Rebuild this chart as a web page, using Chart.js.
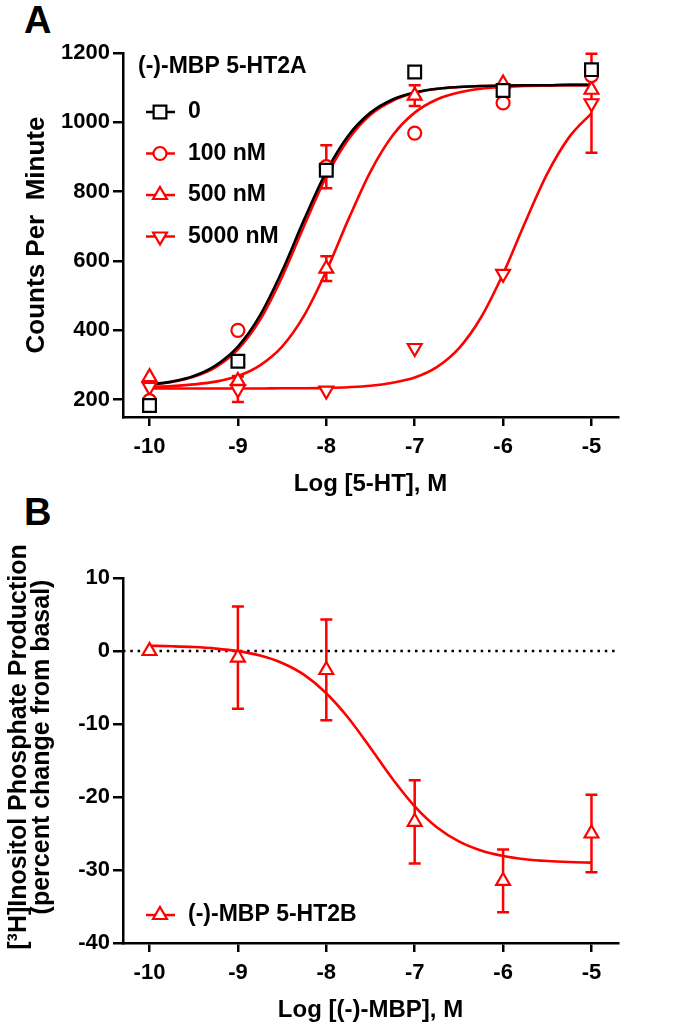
<!DOCTYPE html>
<html>
<head>
<meta charset="utf-8">
<script src="https://cdn.jsdelivr.net/npm/chart.js@4.4.1/dist/chart.umd.min.js"></script>
<style>
  body { margin: 0; background: #fff; width: 678px; height: 1027px; position: relative; overflow: hidden; font-family: "Liberation Sans", Arial, sans-serif; }
  canvas { position: absolute; left: 0; }
  #chartA { top: 0; }
  #chartB { top: 490px; }
  .letter { position: absolute; left: 24px; font-weight: bold; font-size: 38px; line-height: 1; }
</style>
</head>
<body>
<div class="letter" style="top:1px">A</div>
<div class="letter" style="top:493px">B</div>
<canvas id="chartA" width="678" height="510"></canvas>
<canvas id="chartB" width="678" height="537"></canvas>
<script>
// ---------- data ----------
const doseX = [-10, -9, -8, -7, -6, -5];
const xTicks = [-10, -9, -8, -7, -6, -5];

// panel A: counts per minute, (-)-MBP 5-HT2A
const legendTitleA = '(-)-MBP 5-HT2A';
const labelsA = ['0', '100 nM', '500 nM', '5000 nM'];
const cpm0    = [183, 311, 862, 1145, 1092, 1152];
const cpm100  = [197, 400, 872, 969, 1056, 1135];
const cpm500  = [265, 254, 578, 1077, 1112, 1094];
const cpm5000 = [237, 230, 226, 349, 563, 1055];
const err0    = [0, 0, 0, 0, 0, 0];
const err100  = [0, 0, 62, 0, 0, 0];
const err500  = [0, 14, 36, 30, 0, 0];
const err5000 = [0, 37, 0, 0, 0, 143];
const yTicksA = [200, 400, 600, 800, 1000, 1200];

// fitted curves
const curveX  = [-10, -9.75, -9.5, -9.25, -9, -8.75, -8.5, -8.25, -8, -7.75, -7.5, -7.25, -7, -6.75, -6.5, -6.25, -6, -5.75, -5.5, -5.25, -5];
const fit0    = [244, 252, 268, 299, 353, 443, 571, 720, 858, 962, 1028, 1066, 1086, 1097, 1102, 1105, 1106, 1107, 1107, 1108, 1108];
const fit100  = [243, 251, 266, 294, 345, 430, 554, 702, 843, 951, 1022, 1062, 1085, 1096, 1102, 1105, 1106, 1107, 1107, 1108, 1108];
const fit500  = [237, 239, 244, 252, 268, 299, 353, 443, 571, 720, 858, 962, 1028, 1066, 1086, 1097, 1102, 1105, 1106, 1107, 1107];
const fit5000 = [232, 232, 232, 232, 232, 232, 233, 233, 234, 236, 240, 249, 264, 294, 348, 437, 563, 712, 852, 958, 1026];

// panel B: percent change from basal, (-)-MBP 5-HT2B
const labelB = '(-)-MBP 5-HT2B';
const pctB = [0, -0.9, -2.6, -23.4, -31.5, -25.0];
const errB = [0, 7.0, 6.9, 5.7, 4.3, 5.3];
const fitB = [0.72, 0.65, 0.54, 0.33, -0.02, -0.63, -1.65, -3.28, -5.78, -9.18, -13.29, -17.53, -21.27, -24.13, -26.08, -27.33, -28.08, -28.52, -28.77, -28.91, -28.99];
const yTicksB = [-40, -30, -20, -10, 0, 10];
const baselineB = 0;

const xMin = -10.3, xMax = -4.7;
const RED = '#ff0000', BLACK = '#000000';
const FONT = "'Liberation Sans', Arial, sans-serif";

Chart.defaults.font.family = FONT;
Chart.defaults.font.weight = 'bold';
Chart.defaults.color = '#000';

const pts = (xs, ys) => xs.map((x, i) => ({ x: x, y: ys[i] }));

function curveDs(ys, color) {
    return {
        type: 'line', data: pts(curveX, ys), borderColor: color, borderWidth: 2.6,
        pointRadius: 0, fill: false, cubicInterpolationMode: 'monotone', order: 3
    };
}

function pointDs(ys, errs, color, style, radius, rotation) {
    return {
        type: 'scatter', data: pts(doseX, ys), errors: errs, showLine: false,
        pointStyle: style, pointRadius: radius, pointRotation: rotation || 0,
        pointBorderColor: color, pointBackgroundColor: '#fff', pointBorderWidth: 2.2,
        borderColor: color, order: 1
    };
}

// error bars drawn through the chart's scales
const errorBars = {
    id: 'errorBars',
    beforeDatasetsDraw(chart) {
        const { ctx, scales: { x, y } } = chart;
        chart.data.datasets.forEach(ds => {
            if (!ds.errors) return;
            ctx.save();
            ctx.strokeStyle = ds.borderColor;
            ctx.lineWidth = 2.5;
            ds.data.forEach((p, j) => {
                const e = ds.errors[j];
                if (!e) return;
                const px = x.getPixelForValue(p.x);
                const top = y.getPixelForValue(p.y + e);
                const bot = y.getPixelForValue(p.y - e);
                ctx.beginPath();
                ctx.moveTo(px, top); ctx.lineTo(px, bot);
                ctx.moveTo(px - 6, top); ctx.lineTo(px + 6, top);
                ctx.moveTo(px - 6, bot); ctx.lineTo(px + 6, bot);
                ctx.stroke();
            });
            ctx.restore();
        });
    }
};

// legend with a line through each marker
function legendPlugin(title, items, titleY, firstY, stepY) {
    return {
        id: 'lineLegend',
        afterDraw(chart) {
            const ctx = chart.ctx;
            ctx.save();
            ctx.font = 'bold 23px ' + FONT;
            ctx.fillStyle = '#000';
            ctx.textBaseline = 'middle';
            if (title) ctx.fillText(title, 138, titleY);
            items.forEach((it, i) => {
                const yy = firstY + i * stepY;
                ctx.strokeStyle = it.color;
                ctx.lineWidth = 2.5;
                ctx.beginPath(); ctx.moveTo(146, yy); ctx.lineTo(175, yy); ctx.stroke();
                ctx.fillStyle = '#fff';
                ctx.lineWidth = 2.2;
                Chart.helpers.drawPoint(ctx, { pointStyle: it.style, radius: it.radius, rotation: it.rotation || 0, borderWidth: 2.2 }, 160, yy);
                ctx.fillStyle = '#000';
                ctx.fillText(it.label, 188, yy);
            });
            ctx.restore();
        }
    };
}

function axisCommon(tickLen) {
    return {
        grid: { display: true, drawOnChartArea: false, drawTicks: true, tickLength: tickLen, color: '#000', lineWidth: 2.5 },
        border: { display: true, color: '#000', width: 2.5 }
    };
}

function xAxis(titleText, height, titleBottom) {
    return Object.assign(axisCommon(9), {
        type: 'linear', min: xMin, max: xMax,
        afterBuildTicks: s => { s.ticks = xTicks.map(v => ({ value: v })); },
        afterFit: s => { s.height = height; },
        ticks: { font: { size: 22 }, padding: 8, callback: v => String(v) },
        title: { display: true, text: titleText, font: { size: 24 }, padding: { top: 0, bottom: titleBottom } }
    });
}

// ---------- panel A ----------
const itemsA = [
    { label: labelsA[0], color: BLACK, style: 'rect', radius: 9 },
    { label: labelsA[1], color: RED, style: 'circle', radius: 6.5 },
    { label: labelsA[2], color: RED, style: 'triangle', radius: 8 },
    { label: labelsA[3], color: RED, style: 'triangle', radius: 8, rotation: 180 }
];

new Chart(document.getElementById('chartA'), {
    type: 'scatter',
    data: {
        datasets: [
            curveDs(fit0, BLACK), curveDs(fit100, RED), curveDs(fit500, RED), curveDs(fit5000, RED),
            pointDs(cpm0, err0, BLACK, 'rect', 9),
            pointDs(cpm100, err100, RED, 'circle', 6.5),
            pointDs(cpm500, err500, RED, 'triangle', 8),
            pointDs(cpm5000, err5000, RED, 'triangle', 8, 180)
        ]
    },
    options: {
        responsive: false, animation: false, events: [],
        layout: { padding: { top: 53, right: 60, left: 0, bottom: 0 } },
        plugins: { legend: { display: false }, tooltip: { enabled: false } },
        scales: {
            x: xAxis('Log [5-HT], M', 93, 11),
            y: Object.assign(axisCommon(10), {
                type: 'linear', min: 150, max: 1200,
                afterBuildTicks: s => { s.ticks = yTicksA.map(v => ({ value: v })); },
                afterFit: s => { s.width = 123; },
                ticks: { font: { size: 22 }, padding: 3, callback: v => String(v) },
                title: { display: true, text: 'Counts Per  Minute', font: { size: 26 }, padding: { top: 21 } }
            })
        }
    },
    plugins: [errorBars, legendPlugin(legendTitleA, itemsA, 67, 112, 41.5)]
});

// ---------- panel B ----------
const yTitleB = ['[\u00B3H]Inositol Phosphate Production', '(percent change from basal)'];
const yTitleBPlugin = {
    id: 'yTitleB',
    afterDraw(chart) {
        const ctx = chart.ctx;
        ctx.save();
        ctx.translate(0, 257);
        ctx.rotate(-Math.PI / 2);
        ctx.font = 'bold 25px ' + FONT;
        ctx.fillStyle = '#000';
        ctx.textAlign = 'center';
        ctx.textBaseline = 'middle';
        ctx.fillText(yTitleB[0], 0, 19);
        ctx.fillText(yTitleB[1], 0, 42);
        ctx.restore();
    }
};

new Chart(document.getElementById('chartB'), {
    type: 'scatter',
    data: {
        datasets: [
            {
                type: 'line', data: [{ x: xMin, y: baselineB }, { x: xMax, y: baselineB }],
                borderColor: '#000', borderWidth: 2.5, borderDash: [2.5, 4.8], pointRadius: 0, fill: false, order: 4
            },
            curveDs(fitB, RED),
            pointDs(pctB, errB, RED, 'triangle', 8)
        ]
    },
    options: {
        responsive: false, animation: false, events: [],
        layout: { padding: { top: 88, right: 60, left: 0, bottom: 0 } },
        plugins: { legend: { display: false }, tooltip: { enabled: false } },
        scales: {
            x: xAxis('Log [(-)-MBP], M', 84, 2),
            y: Object.assign(axisCommon(10), {
                type: 'linear', min: -40, max: 10,
                afterBuildTicks: s => { s.ticks = yTicksB.map(v => ({ value: v })); },
                afterFit: s => { s.width = 123; },
                ticks: { font: { size: 22 }, padding: 3, callback: v => String(v) },
                title: { display: false }
            })
        }
    },
    plugins: [errorBars, yTitleBPlugin, legendPlugin(null, [{ label: labelB, color: RED, style: 'triangle', radius: 8 }], 0, 425, 0)]
});
</script>
</body>
</html>
